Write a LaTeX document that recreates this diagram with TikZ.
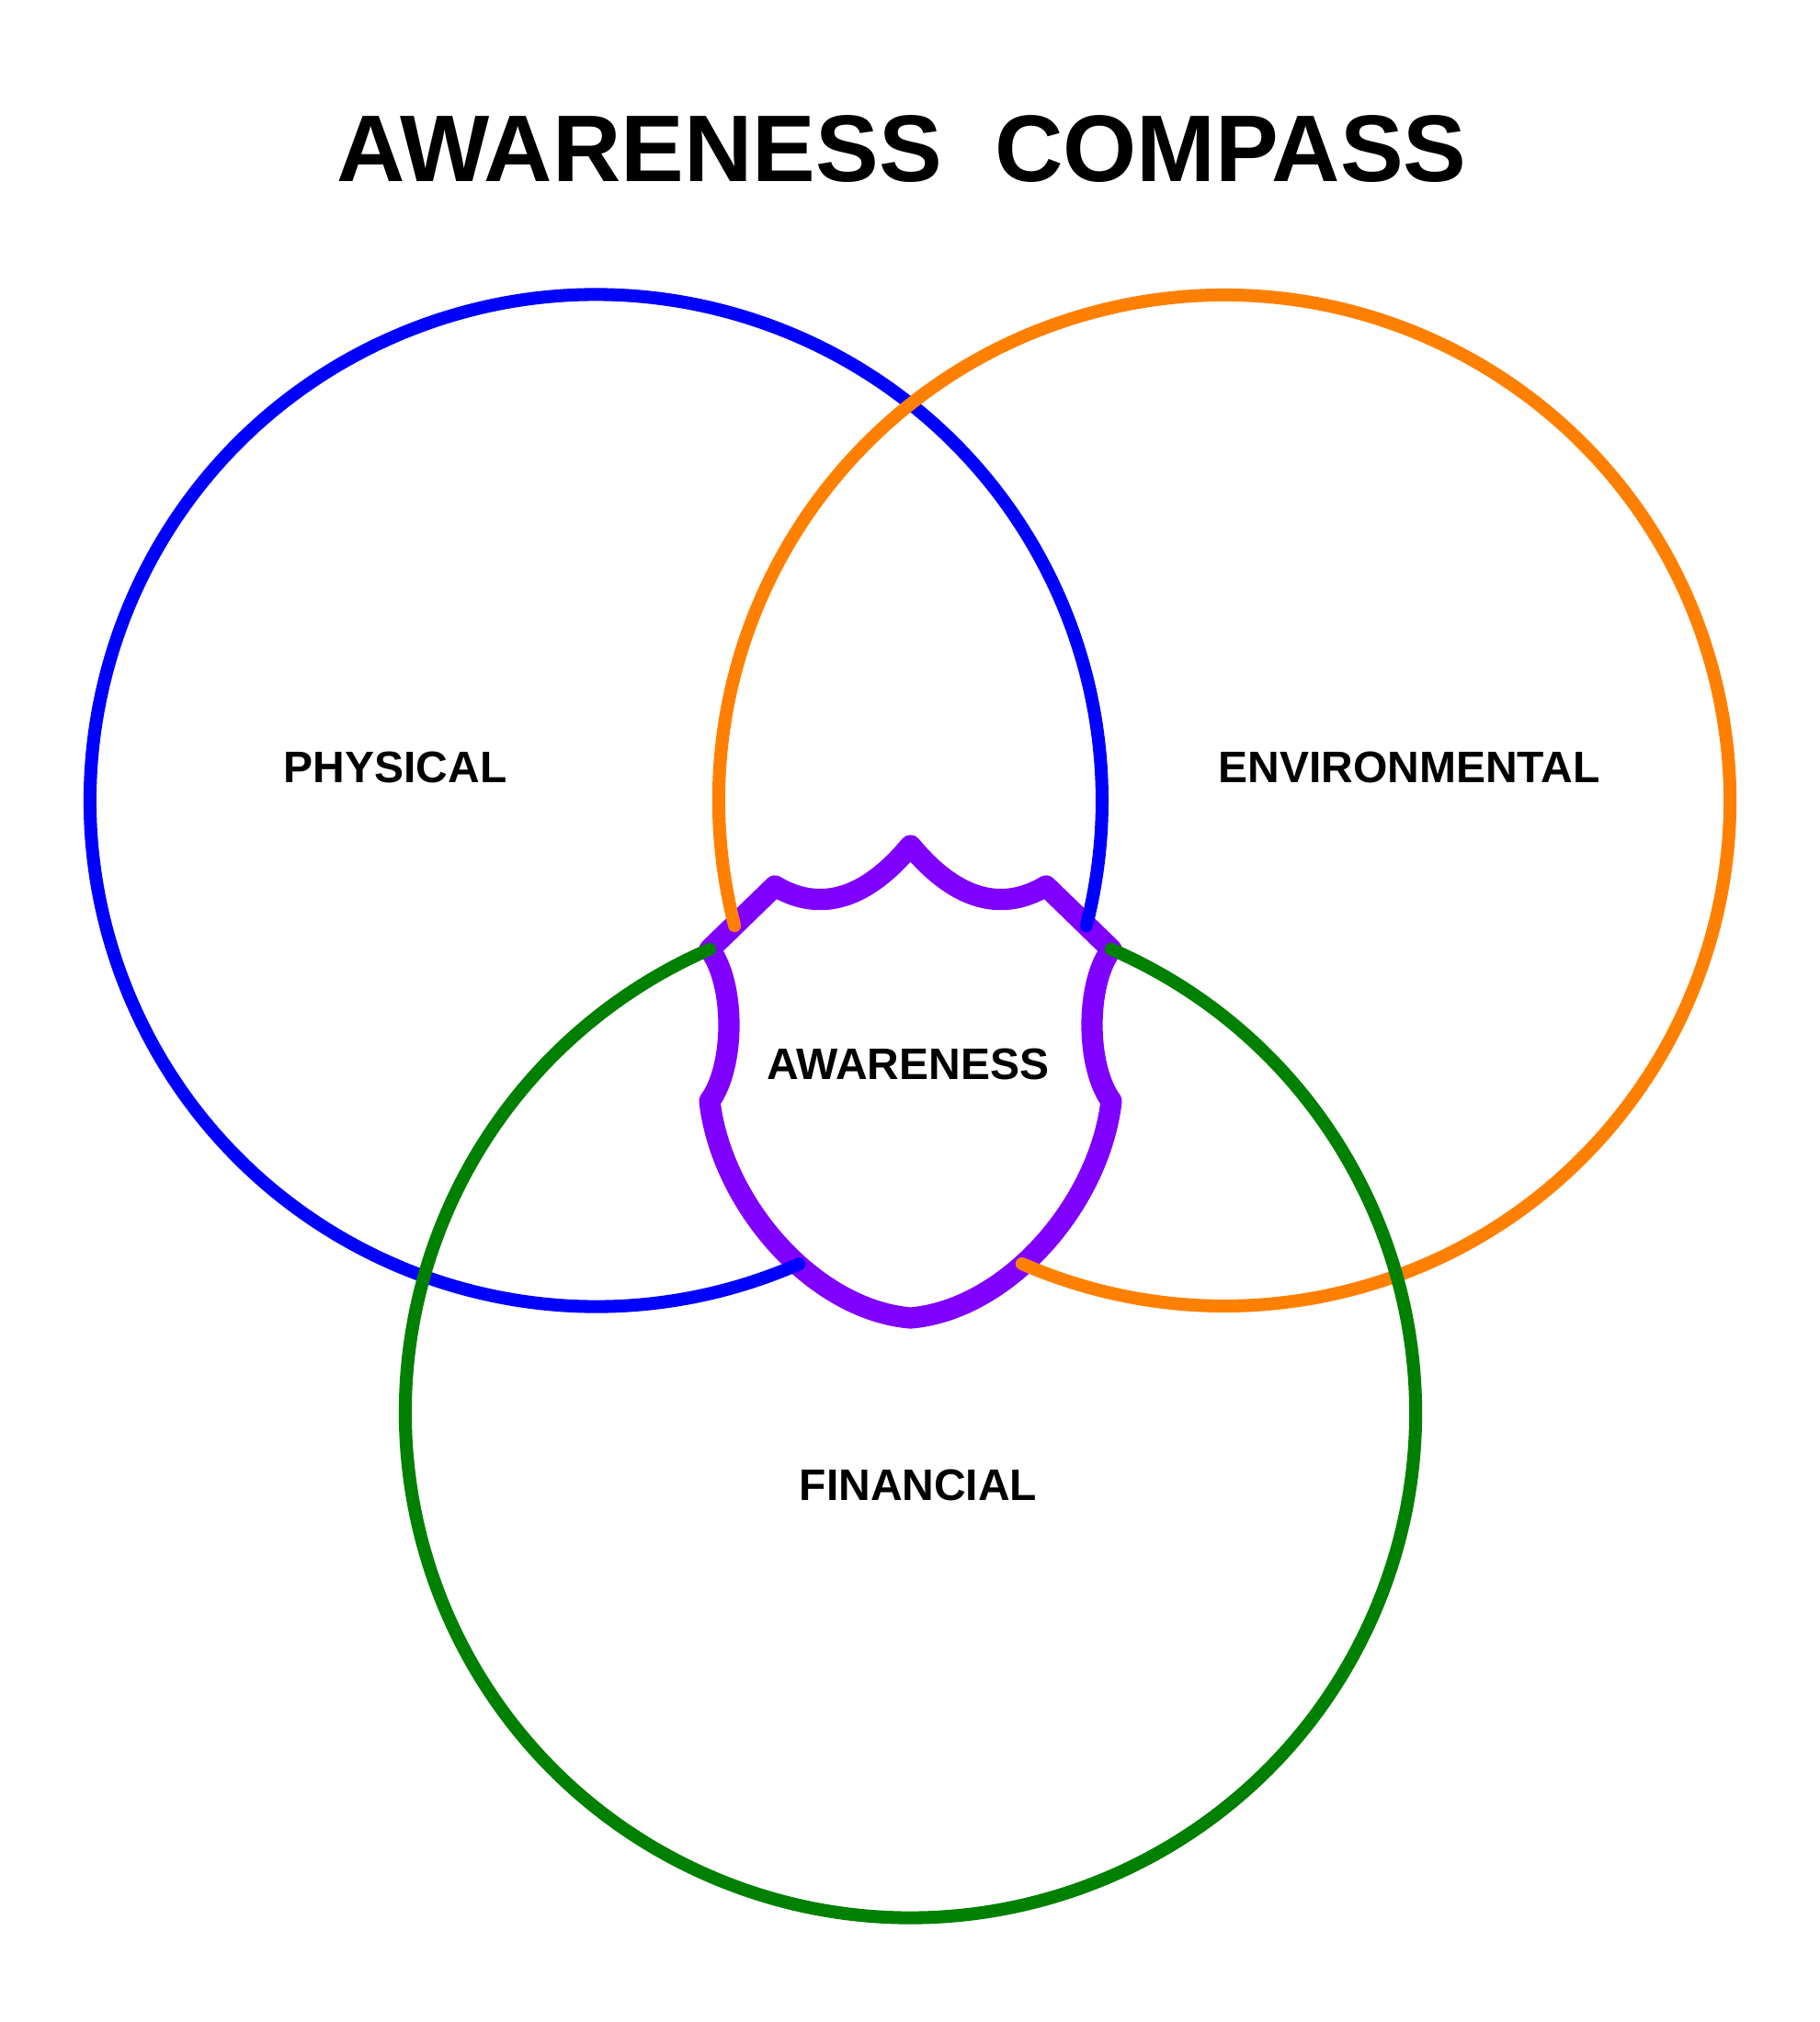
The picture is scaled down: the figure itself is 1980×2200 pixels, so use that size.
\documentclass[tikz,border=0pt]{standalone}
\usepackage{fontspec}
\setmainfont{Liberation Sans}
\definecolor{cblue}{RGB}{0,0,255}
\definecolor{corange}{RGB}{255,128,0}
\definecolor{cgreen}{RGB}{0,128,0}
\definecolor{cpurple}{RGB}{128,0,255}
\begin{document}
\begin{tikzpicture}[x=0.01cm,y=-0.01cm,
  ring/.style={line width=4pt, line cap=round},
  shield/.style={cpurple, line width=6.6pt, line join=round},
  lbl/.style={font=\bfseries\fontsize{13.65pt}{16pt}\selectfont, inner sep=0pt, text=black},
  titlestyle/.style={font=\bfseries\fontsize{29.3pt}{34pt}\selectfont, inner sep=0pt, text=black}]
\useasboundingbox (0,0) rectangle (1980,2200);
\fill[white] (0,0) rectangle (1980,2200);
% awareness shield
\draw[shield]
 (990.5,920) .. controls (945,975) and (895,995) .. (843,964)
 -- (772,1033)
 .. controls (800,1070) and (800,1160) .. (772,1198)
 .. controls (785,1310) and (885,1425) .. (990.5,1434)
 .. controls (1096,1425) and (1196,1310) .. (1209,1198)
 .. controls (1181,1160) and (1181,1070) .. (1209,1033)
 -- (1138,964)
 .. controls (1086,995) and (1036,975) .. cycle;
% circles
\draw[ring, cblue] (648.5,871) ++(66.36:550.5) arc[start angle=66.36, end angle=374.33, radius=550.5];
\draw[ring, corange] (1332,871) ++(165.67:550) arc[start angle=165.67, end angle=473.6, radius=550];
\draw[ring, cgreen] (990.5,1537) ++(-66.6:549.5) arc[start angle=-66.6, end angle=246.6, radius=549.5];
% texts
\node[titlestyle] (title) at (981,162) {AWARENESS\ \ COMPASS};
\node[lbl] (phys) at (430,835) {PHYSICAL};
\node[lbl] (env) at (1533,835) {ENVIRONMENTAL};
\node[lbl] (aw) at (988,1158) {AWARENESS};
\node[lbl] (fin) at (999,1616) {FINANCIAL};
\end{tikzpicture}
\end{document}
